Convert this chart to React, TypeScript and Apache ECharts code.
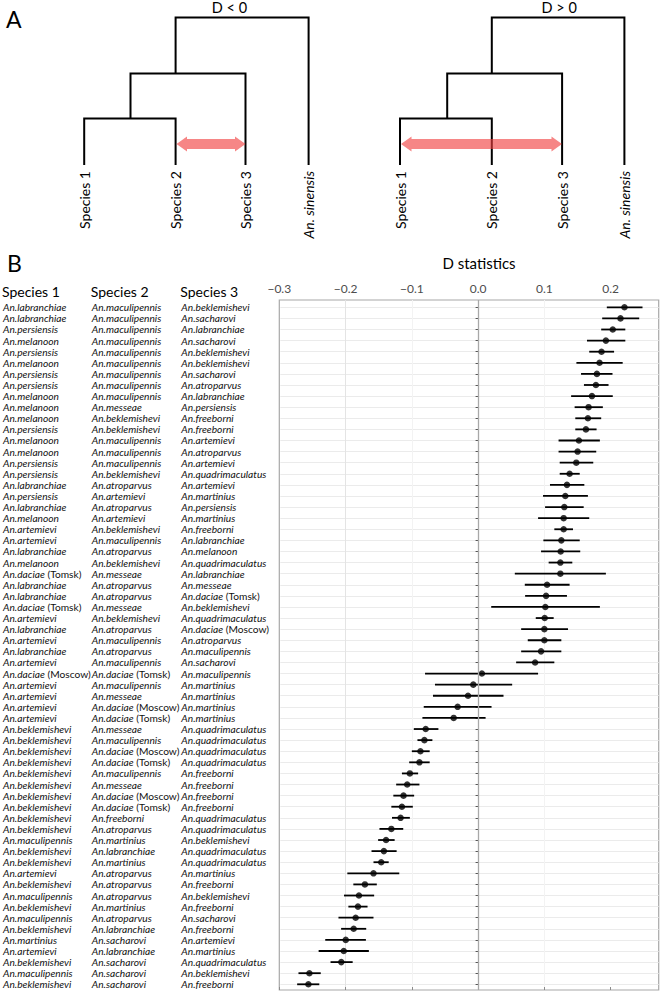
import React, { useEffect, useRef } from 'react';
import * as echarts from 'echarts';

// ---------- Panel B data ----------
const species1 = [
  'labranchiae', 'labranchiae', 'persiensis', 'melanoon', 'persiensis', 'melanoon', 'persiensis', 'persiensis', 'melanoon', 'melanoon',
  'melanoon', 'persiensis', 'melanoon', 'melanoon', 'persiensis', 'persiensis', 'labranchiae', 'persiensis', 'labranchiae', 'melanoon',
  'artemievi', 'artemievi', 'labranchiae', 'melanoon', 'daciae (Tomsk)', 'labranchiae', 'labranchiae', 'daciae (Tomsk)', 'artemievi', 'labranchiae',
  'artemievi', 'labranchiae', 'artemievi', 'daciae (Moscow)', 'artemievi', 'artemievi', 'artemievi', 'artemievi', 'beklemishevi', 'beklemishevi',
  'beklemishevi', 'beklemishevi', 'beklemishevi', 'beklemishevi', 'beklemishevi', 'beklemishevi', 'beklemishevi', 'beklemishevi', 'maculipennis', 'beklemishevi',
  'beklemishevi', 'artemievi', 'beklemishevi', 'maculipennis', 'beklemishevi', 'maculipennis', 'beklemishevi', 'martinius', 'artemievi', 'beklemishevi',
  'maculipennis', 'beklemishevi',
];
const species2 = [
  'maculipennis', 'maculipennis', 'maculipennis', 'maculipennis', 'maculipennis', 'maculipennis', 'maculipennis', 'maculipennis', 'maculipennis', 'messeae',
  'beklemishevi', 'beklemishevi', 'maculipennis', 'maculipennis', 'maculipennis', 'beklemishevi', 'atroparvus', 'artemievi', 'atroparvus', 'artemievi',
  'beklemishevi', 'maculipennis', 'atroparvus', 'beklemishevi', 'messeae', 'atroparvus', 'atroparvus', 'messeae', 'beklemishevi', 'atroparvus',
  'maculipennis', 'atroparvus', 'maculipennis', 'daciae (Tomsk)', 'maculipennis', 'messeae', 'daciae (Moscow)', 'daciae (Tomsk)', 'messeae', 'maculipennis',
  'daciae (Moscow)', 'daciae (Tomsk)', 'maculipennis', 'messeae', 'daciae (Moscow)', 'daciae (Tomsk)', 'freeborni', 'atroparvus', 'martinius', 'labranchiae',
  'martinius', 'atroparvus', 'atroparvus', 'atroparvus', 'martinius', 'atroparvus', 'labranchiae', 'sacharovi', 'labranchiae', 'sacharovi',
  'sacharovi', 'sacharovi',
];
const species3 = [
  'beklemishevi', 'sacharovi', 'labranchiae', 'sacharovi', 'beklemishevi', 'beklemishevi', 'sacharovi', 'atroparvus', 'labranchiae', 'persiensis',
  'freeborni', 'freeborni', 'artemievi', 'atroparvus', 'artemievi', 'quadrimaculatus', 'artemievi', 'martinius', 'persiensis', 'martinius',
  'freeborni', 'labranchiae', 'melanoon', 'quadrimaculatus', 'labranchiae', 'messeae', 'daciae (Tomsk)', 'beklemishevi', 'quadrimaculatus', 'daciae (Moscow)',
  'atroparvus', 'maculipennis', 'sacharovi', 'maculipennis', 'martinius', 'martinius', 'martinius', 'martinius', 'quadrimaculatus', 'quadrimaculatus',
  'quadrimaculatus', 'quadrimaculatus', 'freeborni', 'freeborni', 'freeborni', 'freeborni', 'quadrimaculatus', 'quadrimaculatus', 'beklemishevi', 'quadrimaculatus',
  'quadrimaculatus', 'martinius', 'freeborni', 'beklemishevi', 'freeborni', 'sacharovi', 'freeborni', 'artemievi', 'martinius', 'quadrimaculatus',
  'beklemishevi', 'freeborni',
];
const dStat = [
  0.2207, 0.2147, 0.203, 0.1926, 0.186, 0.183, 0.179, 0.1775, 0.1715, 0.1664,
  0.1654, 0.1624, 0.1518, 0.1498, 0.1478, 0.1377, 0.1337, 0.1312, 0.1297, 0.1287,
  0.1287, 0.1252, 0.1242, 0.1237, 0.1237, 0.1036, 0.1021, 0.101, 0.1, 0.0995,
  0.0995, 0.0945, 0.0855, 0.005, -0.008, -0.016, -0.0317, -0.0377, -0.08, -0.082,
  -0.088, -0.0895, -0.104, -0.108, -0.1136, -0.116, -0.118, -0.132, -0.14, -0.1433,
  -0.1473, -0.159, -0.172, -0.181, -0.1825, -0.186, -0.189, -0.201, -0.204, -0.2077,
  -0.256, -0.2575,
];
const ciLow = [
  0.194, 0.187, 0.1855, 0.164, 0.1674, 0.148, 0.155, 0.1594, 0.14, 0.1453,
  0.1463, 0.1463, 0.121, 0.121, 0.1227, 0.1227, 0.108, 0.0975, 0.1006, 0.09,
  0.1146, 0.098, 0.0945, 0.106, 0.0548, 0.0699, 0.0704, 0.0191, 0.0865, 0.0644,
  0.0744, 0.0644, 0.0568, -0.081, -0.066, -0.069, -0.083, -0.085, -0.098, -0.0925,
  -0.101, -0.105, -0.116, -0.1247, -0.129, -0.132, -0.131, -0.15, -0.152, -0.162,
  -0.159, -0.1986, -0.1895, -0.2036, -0.197, -0.212, -0.208, -0.232, -0.242, -0.224,
  -0.2725, -0.2745,
];
const ciHigh = [
  0.248, 0.243, 0.222, 0.222, 0.205, 0.218, 0.2026, 0.1966, 0.203, 0.188,
  0.1855, 0.1785, 0.1835, 0.178, 0.1735, 0.153, 0.16, 0.1654, 0.159, 0.1674,
  0.1428, 0.153, 0.1538, 0.1418, 0.1926, 0.1377, 0.1337, 0.1835, 0.1136, 0.1353,
  0.1252, 0.1252, 0.1146, 0.09, 0.0508, 0.0377, 0.0196, 0.0106, -0.0608, -0.0699,
  -0.074, -0.074, -0.0915, -0.0895, -0.0975, -0.0995, -0.104, -0.114, -0.127, -0.124,
  -0.136, -0.12, -0.154, -0.158, -0.168, -0.159, -0.17, -0.1705, -0.166, -0.1905,
  -0.2388, -0.241,
];
const xTickValues = [-0.3, -0.2, -0.1, 0, 0.1, 0.2];
const columnHeaders = ['Species 1', 'Species 2', 'Species 3'];

// ---------- Panel A data ----------
const treeLeaves = ['Species 1', 'Species 2', 'Species 3', 'An. sinensis'];
const treeTitles = ['D < 0', 'D > 0'];

const FONT = 'Lato, "Open Sans", sans-serif';

function cell(name: string): string {
  const m = name.match(/^(\S+) \((.+)\)$/);
  if (m) return `{i|An.${m[1]}}{n| (${m[2]})}`;
  return `{i|An.${name}}`;
}

const ROW_FS = 10.2;
const rich = {
  i: { fontStyle: 'italic', fontFamily: FONT, fontSize: ROW_FS, color: '#111' },
  n: { fontStyle: 'normal', fontFamily: FONT, fontSize: ROW_FS, color: '#111' },
};

function buildTree(
  leafX: number[], n1x: number, rootX: number, arrowFrom: number, arrowTo: number,
  title: string, titleX: number,
): any[] {
  const yRoot = 17.5, y2 = 73.5, y1 = 118.5, yLeaf = 165, yArrow = 144;
  const line = { stroke: '#000', lineWidth: 2, fill: null, lineJoin: 'miter' };
  const els: any[] = [
    { type: 'polyline', shape: { points: [[leafX[0], yLeaf], [leafX[0], y1], [leafX[1], y1], [leafX[1], yLeaf]] }, style: line },
    { type: 'polyline', shape: { points: [[n1x, y1], [n1x, y2], [leafX[2], y2], [leafX[2], yLeaf]] }, style: line },
    { type: 'polyline', shape: { points: [[rootX, y2], [rootX, yRoot], [leafX[3], yRoot], [leafX[3], yLeaf]] }, style: line },
  ];
  const h = 10.5, sh = 5, hh = 7.5;
  els.push({
    type: 'polygon',
    shape: {
      points: [
        [arrowFrom, yArrow], [arrowFrom + h, yArrow - hh], [arrowFrom + h, yArrow - sh], [arrowTo - h, yArrow - sh],
        [arrowTo - h, yArrow - hh], [arrowTo, yArrow], [arrowTo - h, yArrow + hh], [arrowTo - h, yArrow + sh],
        [arrowFrom + h, yArrow + sh], [arrowFrom + h, yArrow + hh],
      ],
    },
    style: { fill: 'rgba(240, 60, 60, 0.62)' },
    z: 10,
  });
  treeLeaves.forEach((lab, i) => {
    els.push({
      type: 'text', x: leafX[i], y: 171, rotation: Math.PI / 2,
      style: {
        text: lab, fontFamily: FONT, fontSize: 14, fontStyle: i === 3 ? 'italic' : 'normal',
        fill: '#000', align: 'right', verticalAlign: 'middle',
      },
    });
  });
  els.push({
    type: 'text', x: titleX, y: 7,
    style: { text: title, fontFamily: FONT, fontSize: 14.5, fill: '#000', align: 'center', verticalAlign: 'middle' },
  });
  return els;
}

export default function App() {
  const ref = useRef<HTMLDivElement>(null);
  useEffect(() => {
    document.body.style.margin = '0';
    const chart = echarts.init(ref.current!, null, { renderer: 'svg' });
    const rowIds = dStat.map((_, i) => String(i));
    const plotLeft = 279.3;
    const plotRight = 1.3;
    const XMIN = -0.3, XMAX = 0.2725;

    const labelAxis = (list: string[], margin: number) => ({
      gridIndex: 1, type: 'category', data: rowIds, inverse: true, boundaryGap: false, position: 'left',
      axisLine: { show: false }, axisTick: { show: false }, splitLine: { show: false },
      axisLabel: {
        interval: 0, align: 'left', verticalAlign: 'middle', margin,
        formatter: (_v: string, i: number) => cell(list[i]), rich,
      },
    });

    const graphics: any[] = [
      { type: 'text', x: 6, y: 19, style: { text: 'A', fontFamily: FONT, fontSize: 23, fill: '#000', verticalAlign: 'middle' } },
      { type: 'text', x: 7, y: 263, style: { text: 'B', fontFamily: FONT, fontSize: 23, fill: '#000', verticalAlign: 'middle' } },
      { type: 'text', x: 479, y: 263, style: { text: 'D statistics', fontFamily: FONT, fontSize: 15, fill: '#000', align: 'center', verticalAlign: 'middle' } },
      ...buildTree([84.2, 175.6, 245.5, 308.6], 130.5, 175.6, 176.5, 245.5, treeTitles[0], 229.5),
      ...buildTree([400, 491.8, 562.1, 624.4], 447.2, 491.8, 401, 562, treeTitles[1], 559.2),
    ];
    [2, 90.7, 180.3].forEach((x, i) => {
      graphics.push({ type: 'text', x, y: 291, style: { text: columnHeaders[i], fontFamily: FONT, fontSize: 14, fill: '#000', verticalAlign: 'middle' } });
    });

    const option: any = {
      animation: false,
      backgroundColor: '#fff',
      grid: [
        { left: plotLeft, right: plotRight, top: 300, bottom: 2, show: true, borderColor: '#a8a8a8', borderWidth: 1.2, backgroundColor: 'transparent' },
        { left: plotLeft, right: plotRight, top: 307.3, height: 677 },
      ],
      xAxis: [
        {
          gridIndex: 0, type: 'value', position: 'top', min: XMIN, max: XMAX, interval: 0.05,
          axisLine: { show: false },
          axisTick: { show: true, customValues: xTickValues, length: 3, lineStyle: { color: '#8c8c8c', width: 1 } },
          axisLabel: {
            customValues: xTickValues, margin: 6, color: '#4d4d4d', fontSize: 12, fontFamily: FONT,
            formatter: (v: number) => (v < 0 ? '\u2212' + Math.abs(v).toFixed(1) : v.toFixed(1)),
          },
          splitLine: { show: true, showMinLine: false, showMaxLine: false, lineStyle: { color: ['#e4e4e4', '#f3f3f3'], width: 1 } },
        },
        { gridIndex: 1, type: 'value', min: XMIN, max: XMAX, show: false, splitLine: { show: false } },
      ],
      yAxis: [
        { gridIndex: 0, type: 'value', min: 0, max: 1, show: false, splitLine: { show: false } },
        {
          gridIndex: 1, type: 'category', data: rowIds, inverse: true, boundaryGap: false, position: 'left',
          axisLine: { show: false },
          axisTick: { show: true, interval: 0, length: 3, lineStyle: { color: '#555', width: 1 } },
          axisLabel: { show: false },
          splitLine: { show: true, interval: 0, lineStyle: { color: '#ebebeb', width: 1 } },
        },
        labelAxis(species1, plotLeft - 2),
        labelAxis(species2, plotLeft - 90.7),
        labelAxis(species3, plotLeft - 180.3),
      ],
      series: [
        {
          type: 'scatter', xAxisIndex: 0, yAxisIndex: 0, data: [], silent: true,
          markLine: {
            silent: true, symbol: 'none', label: { show: false },
            lineStyle: { color: '#a8a8a8', width: 1.3, type: 'solid' },
            data: [{ xAxis: 0 }],
          },
        },
        {
          type: 'custom', xAxisIndex: 1, yAxisIndex: 1, silent: true,
          encode: { x: [0, 1], y: 2 },
          data: ciLow.map((lo, i) => [lo, ciHigh[i], i]),
          renderItem: (_p: any, api: any) => {
            const a = api.coord([api.value(0), api.value(2)]);
            const b = api.coord([api.value(1), api.value(2)]);
            return { type: 'line', shape: { x1: a[0], y1: a[1], x2: b[0], y2: b[1] }, style: { stroke: '#000', lineWidth: 1.8 } };
          },
          z: 3,
        },
        {
          type: 'scatter', xAxisIndex: 1, yAxisIndex: 1, silent: true,
          data: dStat.map((d, i) => [d, i]),
          symbol: 'circle', symbolSize: 6.5, itemStyle: { color: '#000' }, z: 4,
        },
      ],
      graphic: graphics,
    };
    chart.setOption(option);
    return () => chart.dispose();
  }, []);
  return <div ref={ref} style={{ width: 660, height: 992 }} />;
}
